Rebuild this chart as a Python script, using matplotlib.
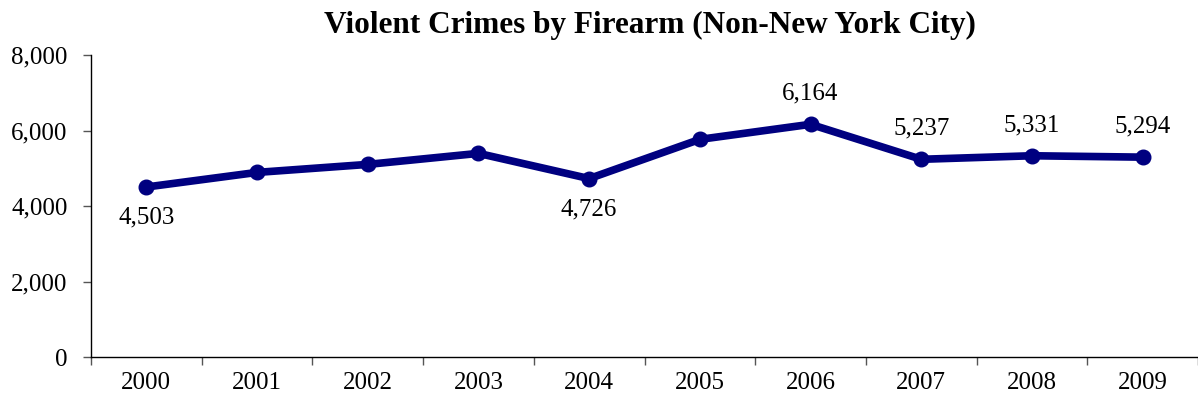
import matplotlib
matplotlib.use("Agg")
import matplotlib.pyplot as plt
from matplotlib.ticker import FuncFormatter, FixedLocator

years = ["2000", "2001", "2002", "2003", "2004", "2005", "2006", "2007", "2008", "2009"]
values = [4503, 4890, 5102, 5394, 4726, 5765, 6164, 5237, 5331, 5294]
labels_below = {0: "4,503", 4: "4,726"}
labels_above = {6: "6,164", 7: "5,237", 8: "5,331", 9: "5,294"}

plt.rcParams['font.family'] = ['Liberation Serif', 'DejaVu Serif']
FS = 18

fig = plt.figure(figsize=(11.98, 4.09), dpi=100)
ax = fig.add_axes([91/1198, 1 - 357/409, 1 - 91/1198, (357 - 55)/409])

x = list(range(len(years)))
ax.plot(x, values, color="#000080", lw=5.5, marker="o", markersize=10.5, solid_joinstyle="round")

ax.set_xlim(-0.5, len(years) - 0.5)
ax.set_ylim(0, 8000)
ax.set_yticks([0, 2000, 4000, 6000, 8000])
ax.yaxis.set_major_formatter(FuncFormatter(lambda v, p: f"{int(v):,}"))
ax.set_xticks(x)
ax.set_xticklabels(years)
ax.xaxis.set_minor_locator(FixedLocator([i - 0.5 for i in range(len(years) + 1)]))
ax.tick_params(axis="x", which="major", length=0, pad=11, labelsize=FS)
ax.tick_params(axis="x", which="minor", length=6, width=1, direction="out", color="#555555")
ax.tick_params(axis="y", length=6, width=1, direction="out", labelsize=FS, pad=11, color="#555555")

for s in ["top", "right"]:
    ax.spines[s].set_visible(False)
for s in ["left", "bottom"]:
    ax.spines[s].set_color("black")
    ax.spines[s].set_linewidth(1)

for i, t in labels_below.items():
    ax.annotate(t, (x[i], values[i]), xytext=(0, -22), textcoords="offset points",
                ha="center", va="center", fontsize=FS)
for i, t in labels_above.items():
    ax.annotate(t, (x[i], values[i]), xytext=(0, 22), textcoords="offset points",
                ha="center", va="center", fontsize=FS)

fig.text(650/1198, 1 - 25/409, "Violent Crimes by Firearm (Non-New York City)",
         ha="center", va="center", fontsize=22.5, fontweight="bold")

fig.savefig("out.png", dpi=100)
